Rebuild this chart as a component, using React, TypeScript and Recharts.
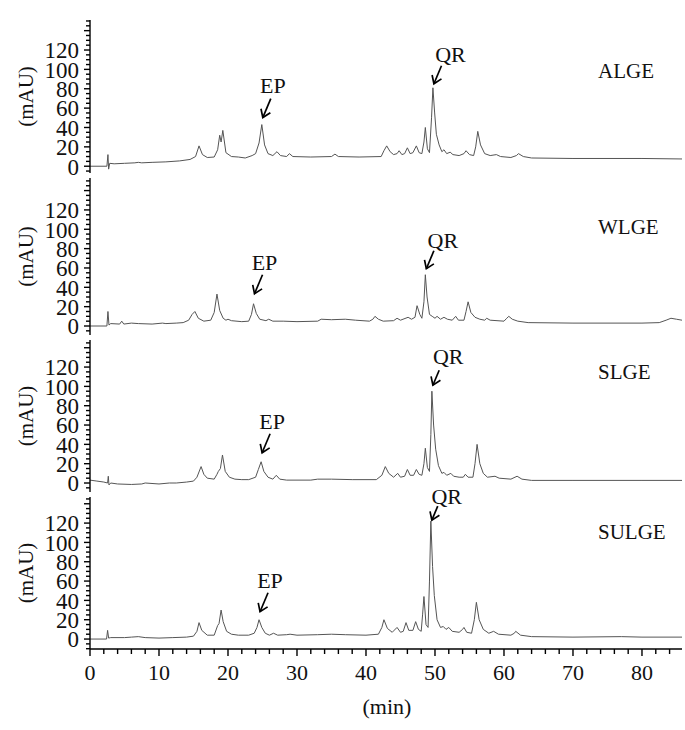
import React from 'react';
import { LineChart, Line, XAxis, YAxis, ReferenceDot } from 'recharts';

type Pt = [number, number];

// retention time (min), absorbance (mAU)
const alge: Pt[] = [
  [0, 0], [2.45, 0], [2.6, 12], [2.7, -3], [2.85, 3], [3.5, 2.5], [5, 3], [6.5, 3.5], [7, 4], [7.5, 3.5],
  [9, 4], [11, 4.5], [13, 5.5], [14.5, 7], [15.3, 10], [15.8, 21], [16.3, 12], [17, 9], [18, 9.5], [18.5, 17],
  [18.8, 32], [19, 25], [19.25, 37], [19.7, 14], [20.5, 10], [21.5, 9.5], [22.5, 8.5], [23.5, 11], [24, 13],
  [24.5, 24], [24.9, 43], [25.3, 22], [25.8, 13], [26.5, 11], [27.1, 15], [27.6, 11], [28.5, 10], [28.9, 13],
  [29.4, 10], [32, 9.5], [35, 10], [35.5, 12.5], [36, 10], [39, 9.5], [42.2, 10], [42.6, 16], [43, 21],
  [43.5, 15], [44, 12], [44.5, 13], [44.8, 16], [45.2, 12], [45.6, 13], [46, 19], [46.4, 13], [46.8, 14],
  [47.3, 21], [47.7, 14], [48.1, 13], [48.4, 25], [48.6, 40], [48.9, 18], [49.2, 14], [49.5, 50], [49.7, 81],
  [49.95, 55], [50.2, 33], [50.6, 22], [51, 15], [51.3, 17], [51.7, 13], [52.2, 14.5], [52.6, 12], [53.5, 11],
  [54.2, 13], [54.5, 16], [55, 12], [55.6, 11], [55.9, 20], [56.2, 36], [56.6, 22], [57.2, 13], [58, 11],
  [58.9, 12], [59.5, 10], [61, 9], [61.8, 11], [62.1, 13], [62.8, 10], [64, 8.5], [70, 8], [80, 8], [85.8, 7.5],
];

const wlge: Pt[] = [
  [0, 0], [2.45, 0], [2.6, 15], [2.75, 1], [3, 2.5], [4.3, 2], [4.6, 5], [4.9, 2], [6, 3], [7, 2.5], [9, 2],
  [10.5, 3], [11, 2.5], [12.5, 3], [13.5, 3.5], [14.3, 6], [14.8, 12], [15.2, 15], [15.7, 8], [16.5, 5],
  [17.5, 6], [18, 14], [18.4, 33], [18.8, 16], [19.3, 8], [19.7, 6], [20, 7], [20.5, 5.5], [22, 4.5], [23, 5],
  [23.4, 12], [23.7, 23], [24.1, 13], [24.6, 7], [25.5, 5.5], [25.9, 7], [26.5, 5], [28, 5], [30, 4.5], [33, 5],
  [33.5, 7], [35, 6.5], [37, 7], [38.5, 6], [40.5, 5], [41, 7], [41.3, 10], [41.8, 7], [42.5, 5], [44, 5.5],
  [44.5, 8], [45, 6], [46.1, 9], [46.6, 7], [47.1, 9], [47.4, 21], [47.8, 12], [48.1, 8], [48.4, 25], [48.6, 53],
  [48.85, 30], [49.2, 12], [49.6, 10], [50, 8], [50.3, 10], [50.8, 7], [51.3, 9], [51.8, 7], [52.5, 6], [53, 10],
  [53.4, 6], [54.2, 6], [54.5, 15], [54.8, 25], [55.2, 14], [55.8, 9], [56.5, 7], [57.2, 6], [57.5, 8], [58, 6],
  [60, 5], [60.4, 8], [60.7, 10], [61.2, 7], [62, 5], [63.5, 3.5], [70, 3], [80, 3], [82.5, 3.5], [83.5, 6],
  [84.2, 8], [85, 7], [85.8, 6],
];

const slge: Pt[] = [
  [0, 3], [1, 2], [2, 1], [2.55, 0], [2.65, 7], [2.75, -2], [3, 0], [4, -1], [6, -1.5], [7.5, -1], [8, 0],
  [10, -1], [11.5, 0], [12.5, 0], [14, 1], [15, 2], [15.5, 6], [16.1, 17], [16.5, 9], [17, 5], [18, 4],
  [18.4, 9], [18.6, 12], [18.9, 15], [19.2, 29], [19.6, 12], [20.2, 6], [21, 4], [22, 3.5], [23, 3.5], [24, 6],
  [24.4, 14], [24.8, 22], [25.2, 12], [25.8, 6], [26.5, 4], [27, 8], [27.5, 4], [28.5, 3], [30, 3], [32, 3],
  [33, 4], [35, 4], [38, 3.5], [41.5, 3.5], [42.3, 8], [42.8, 17], [43.3, 10], [44, 6], [44.6, 10], [45, 6],
  [45.6, 7], [46, 14], [46.4, 8], [46.9, 8], [47.3, 14], [47.7, 9], [48.1, 8], [48.4, 20], [48.6, 36],
  [48.9, 16], [49.2, 12], [49.4, 50], [49.55, 95], [49.8, 60], [50.1, 35], [50.5, 18], [51, 10], [51.3, 11],
  [51.7, 8], [52.3, 10], [52.7, 7], [53.5, 6], [54.1, 6], [54.4, 9], [54.8, 6], [55.5, 6], [55.8, 20], [56.1, 40],
  [56.5, 20], [57, 10], [57.6, 6], [58.7, 7], [59.3, 5], [61, 4], [61.6, 6], [61.9, 7], [62.6, 4], [64, 2.7],
  [70, 2.7], [80, 2.7], [85.8, 2.7],
];

const sulge: Pt[] = [
  [0, 0], [2.4, 0], [2.55, 9], [2.7, 1], [3, 1.5], [5, 1.5], [6, 2], [7, 2.5], [8, 1.5], [10, 1], [12, 1.5],
  [14, 2], [15, 3], [15.5, 8], [15.8, 17], [16.2, 9], [17, 4], [18, 4], [18.5, 14], [18.7, 16], [19, 30],
  [19.3, 18], [19.8, 8], [20.5, 5], [21.5, 4], [23, 4], [23.8, 6], [24.2, 12], [24.5, 20], [24.9, 12],
  [25.4, 6], [26, 4], [26.6, 6], [27.2, 4], [28.5, 4.5], [29, 5], [30, 4], [33, 4.5], [35, 5], [37, 4.5],
  [40, 4], [41.8, 5], [42.3, 12], [42.6, 20], [43.1, 11], [43.8, 7], [44.5, 12], [45, 7], [45.4, 8],
  [45.8, 17], [46.2, 9], [46.8, 9], [47.2, 18], [47.6, 10], [48, 8], [48.2, 25], [48.4, 44], [48.7, 15],
  [49, 12], [49.2, 60], [49.4, 122], [49.65, 75], [49.9, 45], [50.3, 20], [50.8, 12], [51.2, 13], [51.6, 10],
  [52, 12], [52.5, 8], [53.5, 7], [54, 10], [54.2, 12], [54.6, 7], [55.3, 6], [55.7, 20], [56, 38], [56.4, 20],
  [57, 10], [57.8, 6], [58.5, 8], [59.2, 5], [61, 4], [61.5, 6], [61.7, 8], [62.4, 4], [64, 2.5], [70, 2],
  [77, 2.5], [80, 2], [85.8, 2],
];

const sampleNames = ['ALGE', 'WLGE', 'SLGE', 'SULGE'];
const epPeaks: Pt[] = [[24.9, 43], [23.7, 23], [24.8, 22], [24.5, 20]];
const qrPeaks: Pt[] = [[49.7, 81], [48.6, 53], [49.55, 95], [49.4, 122]];

const yTickLabels = [0, 20, 40, 60, 80, 100, 120];
const yTicks = [-10, -5, 0, 5, 10, 15, 20, 25, 30, 35, 40, 45, 50, 55, 60, 65, 70, 75, 80, 85, 90, 95, 100,
  105, 110, 115, 120, 125, 130, 135, 140, 145, 150];
const xTickLabels = [0, 10, 20, 30, 40, 50, 60, 70, 80];
const xTicks = [0, 2, 4, 6, 8, 10, 12, 14, 16, 18, 20, 22, 24, 26, 28, 30, 32, 34, 36, 38, 40, 42, 44, 46, 48,
  50, 52, 54, 56, 58, 60, 62, 64, 66, 68, 70, 72, 74, 76, 78, 80, 82, 84];

const traces = [alge, wlge, slge, sulge];

const FONT = '"Liberation Serif", "Times New Roman", serif';
const X_DOMAIN: [number, number] = [0, 85.8];
const PAD_TOP = 20;
const PAD_BOTTOM = 10;

// layout per panel (page pixels of the plot area)
const layout = [
  { top: 20, height: 153, domain: [-7, 151], ep: { gap: 7, len: 19, tdy: -6 }, qr: { gap: 4, len: 18, tdy: -4 }, nameY: 78 },
  { top: 178, height: 157, domain: [-9.3, 153], ep: { gap: 10, len: 19, tdy: -5 }, qr: { gap: 6, len: 18, tdy: -3 }, nameY: 234 },
  { top: 340, height: 152, domain: [-9.3, 148], ep: { gap: 9, len: 19, tdy: -5 }, qr: { gap: 6, len: 15, tdy: -6 }, nameY: 379 },
  { top: 497, height: 152, domain: [-10.3, 147], ep: { gap: 8, len: 19, tdy: -5 }, qr: { gap: 1, len: 14, tdy: -2 }, nameY: 539 },
];

const YTick = (props: any) => {
  const { x, y, payload } = props;
  const v = payload.value;
  const major = v % 20 === 0;
  return (
    <g>
      <line x1={x - (major ? 6 : 4)} x2={x} y1={y} y2={y} stroke="#000" strokeWidth={1.4} />
      {major && yTickLabels.includes(v) && (
        <text x={x - 11} y={y} dy="0.36em" textAnchor="end" fontFamily={FONT} fontSize={23} fill="#111">
          {v}
        </text>
      )}
    </g>
  );
};

const XTick = (props: any) => {
  const { x, y, payload } = props;
  const v = payload.value;
  const major = xTickLabels.includes(v);
  return (
    <g>
      <line x1={x} x2={x} y1={y} y2={y + (major ? 7 : 5)} stroke="#000" strokeWidth={1.4} />
      {major && (
        <text x={x} y={y + 31} textAnchor="middle" fontFamily={FONT} fontSize={22} fill="#111">
          {v}
        </text>
      )}
    </g>
  );
};

const MauLabel = (props: any) => {
  const vb = props.viewBox;
  const cx = vb.x + 26;
  const cy = vb.y + vb.height / 2;
  return (
    <text x={cx} y={cy} transform={`rotate(-90 ${cx} ${cy})`} textAnchor="middle" dy="0.35em"
      fontFamily={FONT} fontSize={21} fill="#111">
      (mAU)
    </text>
  );
};

// arrow pointing down-left onto a peak, with its label above
const PeakArrow = (props: any) => {
  const { cx, cy, label, gap, len, tdy, tdx } = props;
  const tipX = cx + 1;
  const tipY = cy - gap;
  const tailX = tipX + len * 0.42;
  const tailY = tipY - len;
  const n = Math.hypot(tailX - tipX, tailY - tipY);
  const ux = (tailX - tipX) / n;
  const uy = (tailY - tipY) / n;
  const barb = (a: number) => {
    const c = Math.cos(a), s = Math.sin(a);
    return [tipX + 9 * (ux * c - uy * s), tipY + 9 * (ux * s + uy * c)];
  };
  const [b1x, b1y] = barb(0.6);
  const [b2x, b2y] = barb(-0.6);
  return (
    <g>
      <line x1={tailX} y1={tailY} x2={tipX} y2={tipY} stroke="#000" strokeWidth={1.7} />
      <polyline points={`${b1x},${b1y} ${tipX},${tipY} ${b2x},${b2y}`} fill="none" stroke="#000" strokeWidth={1.7} />
      <text x={tailX + tdx} y={tailY + tdy} textAnchor="middle" fontFamily={FONT} fontSize={22} fill="#111">
        {label}
      </text>
    </g>
  );
};

function Panel({ idx }: { idx: number }) {
  const cfg = layout[idx];
  const last = idx === traces.length - 1;
  const data = traces[idx].map(([t, v]) => ({ t, v }));
  const [lo, hi] = cfg.domain;
  const ticks = yTicks.filter((v) => v >= lo && v <= hi);
  const bottomPad = last ? 0 : PAD_BOTTOM;
  return (
    <div style={{ position: 'absolute', left: 0, top: cfg.top - PAD_TOP }}>
      <LineChart width={685} height={cfg.height + PAD_TOP + bottomPad + (last ? 81 : 0)} data={data}
        margin={{ top: PAD_TOP, right: 3, bottom: bottomPad, left: 0 }}>
        <XAxis dataKey="t" type="number" domain={X_DOMAIN} allowDataOverflow hide={!last}
          ticks={xTicks} interval={0} tick={<XTick />} tickLine={false} tickSize={0} tickMargin={0}
          axisLine={{ stroke: '#000', strokeWidth: 1.4 }} height={81} />
        <YAxis type="number" domain={[lo, hi]} allowDataOverflow width={90} ticks={ticks} interval={0}
          tick={<YTick />} tickLine={false} tickSize={0} tickMargin={0}
          axisLine={{ stroke: '#000', strokeWidth: 1.4 }} label={<MauLabel />} />
        <Line dataKey="v" type="linear" stroke="#555" strokeWidth={1} dot={false} isAnimationActive={false} />
        <ReferenceDot x={epPeaks[idx][0]} y={epPeaks[idx][1]} r={0}
          shape={(p: any) => <PeakArrow {...p} label="EP" {...cfg.ep} tdx={2} />} />
        <ReferenceDot x={qrPeaks[idx][0]} y={qrPeaks[idx][1]} r={0}
          shape={(p: any) => <PeakArrow {...p} label="QR" {...cfg.qr} tdx={9} />} />
      </LineChart>
    </div>
  );
}

export default function App() {
  return (
    <div style={{ position: 'absolute', left: 0, top: 0, width: 685, height: 730, background: '#fff', overflow: 'hidden' }}>
      {traces.map((_, i) => (
        <Panel key={i} idx={i} />
      ))}
      <svg width={685} height={730} style={{ position: 'absolute', left: 0, top: 0, pointerEvents: 'none' }}>
        {sampleNames.map((name, i) => (
          <text key={name} x={598} y={layout[i].nameY} fontFamily={FONT} fontSize={21} fill="#111">
            {name}
          </text>
        ))}
        <text x={387} y={714} textAnchor="middle" fontFamily={FONT} fontSize={22} fill="#111">
          (min)
        </text>
      </svg>
    </div>
  );
}
